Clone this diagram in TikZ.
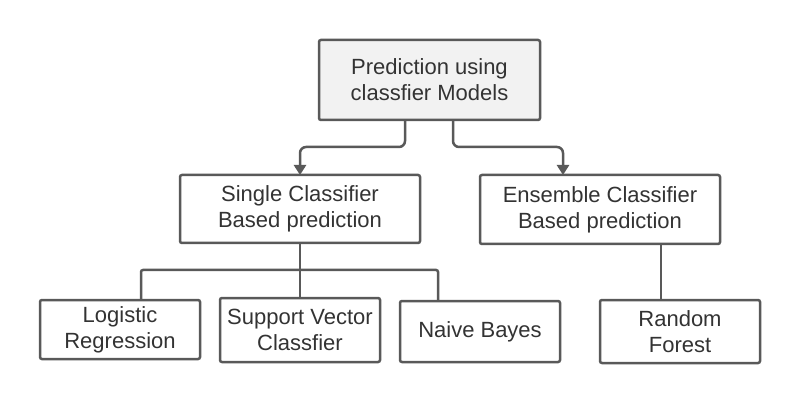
\documentclass[tikz,border=0pt]{standalone}
\usepackage{fontspec}
\setmainfont{Liberation Sans}
\usetikzlibrary{arrows.meta}
\definecolor{edge}{HTML}{595959}
\definecolor{txt}{HTML}{333333}
\definecolor{topfill}{HTML}{F2F2F2}

\begin{document}
\begin{tikzpicture}[x=1pt, y=-1pt,
  box/.style={draw=edge, line width=2.5pt, rounded corners=2pt, align=center, text=txt,
    inner sep=0pt, outer sep=0pt, font=\fontsize{22}{26}\selectfont},
  link/.style={draw=edge, line width=2.5pt},
  arr/.style={link, rounded corners=6pt, -{Triangle[width=12pt,length=10pt]}}]
  \useasboundingbox[fill=white] (0,0) rectangle (800,403);
  \node[box, fill=topfill, minimum width=221pt, minimum height=80pt] (pred) at (429.5,80) {Prediction using\\classfier Models};
  \node[box, minimum width=240pt, minimum height=68pt] (single) at (300,209) {Single Classifier\\Based prediction};
  \node[box, minimum width=240pt, minimum height=69pt] (ensemble) at (600,209.5) {Ensemble Classifier\\Based prediction};
  \node[box, minimum width=160pt, minimum height=59pt] (logistic) at (120,329.5) {Logistic\\Regression};
  \node[box, minimum width=160pt, minimum height=64pt] (svc) at (300,330) {Support Vector\\Classfier};
  \node[box, minimum width=160pt, minimum height=61pt] (naive) at (480,331.5) {Naive Bayes};
  \node[box, minimum width=160pt, minimum height=63pt] (forest) at (680,331.5) {Random\\Forest};
  \coordinate (split) at (300,270);
  \draw[arr] ([xshift=-24.5pt]pred.south) -- ++(0,27) -| (single.north);
  \draw[arr] ([xshift=23.5pt]pred.south) -- ++(0,27) -| ([xshift=-37pt]ensemble.north);
  \draw[link] (single.south) -- (svc.north);
  \draw[link, rounded corners=2pt] ([xshift=21pt]logistic.north) |- (split) -| ([xshift=-42pt]naive.north);
  \draw[link] ([xshift=61pt]ensemble.south) -- ([xshift=-19pt]forest.north);
\end{tikzpicture}
\end{document}
